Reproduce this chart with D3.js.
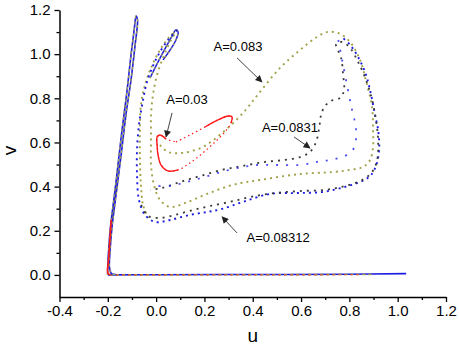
<!DOCTYPE html>
<html>
<head>
<meta charset="utf-8">
<script src="https://cdn.jsdelivr.net/npm/d3@7"></script>
<style>
body { margin: 0; background: #fff; }
text { font-family: Arial, "Liberation Sans", sans-serif; }
</style>
</head>
<body>
<div id="chart-area"></div>
<script>
// phase-plane trajectories, [u, v]
var bottomLine = [[-0.2, 0.0], [0.0, 0.001], [0.4, 0.002], [0.8, 0.003], [1.035, 0.006]];

var leftSpike = [[-0.201, 0.0], [-0.199, 0.068], [-0.195, 0.136], [-0.191, 0.195], [-0.183, 0.272],
    [-0.170, 0.385], [-0.158, 0.498], [-0.141, 0.657], [-0.120, 0.838], [-0.104, 0.996],
    [-0.091, 1.109], [-0.083, 1.173], [-0.077, 1.155], [-0.087, 1.042], [-0.104, 0.883],
    [-0.125, 0.725], [-0.145, 0.543], [-0.166, 0.362], [-0.183, 0.213], [-0.191, 0.104],
    [-0.193, 0.032], [-0.185, 0.006], [-0.165, 0.002]];

var secondSpike = [[-0.025, 0.892], [0.008, 0.965], [0.041, 1.033], [0.066, 1.082], [0.082, 1.110],
    [0.091, 1.101], [0.082, 1.064], [0.058, 1.019], [0.029, 0.974]];

// A = 0.03
var redLoop = [[0.082, 0.602], [0.140, 0.634], [0.202, 0.670], [0.256, 0.702], [0.298, 0.720],
    [0.314, 0.716], [0.310, 0.688], [0.285, 0.648], [0.244, 0.602], [0.194, 0.553],
    [0.140, 0.507], [0.091, 0.476], [0.049, 0.471], [0.020, 0.498], [0.008, 0.543],
    [0.004, 0.589], [0.004, 0.625], [0.016, 0.634], [0.041, 0.616], [0.082, 0.602]];
var redStem = [[-0.186, 0.25], [-0.191, 0.17], [-0.196, 0.08], [-0.2, 0.01], [-0.19, 0.0]];
var redBase = [[-0.19, 0.0], [0.3, 0.0], [0.85, 0.001]];

// A = 0.083
var oliveLoop = [[0.016, 0.589], [0.049, 0.557], [0.111, 0.553], [0.194, 0.580], [0.273, 0.643],
    [0.360, 0.734], [0.430, 0.829], [0.513, 0.938], [0.596, 1.019], [0.666, 1.078],
    [0.712, 1.101], [0.761, 1.092], [0.803, 1.055], [0.844, 0.974], [0.873, 0.861],
    [0.894, 0.761], [0.898, 0.657], [0.898, 0.580], [0.886, 0.521], [0.857, 0.489],
    [0.803, 0.476], [0.732, 0.466], [0.596, 0.457], [0.430, 0.430], [0.318, 0.408],
    [0.211, 0.367], [0.120, 0.326], [0.058, 0.308], [0.016, 0.340], [-0.009, 0.408],
    [-0.021, 0.498], [-0.021, 0.611], [-0.021, 0.725], [-0.013, 0.815], [0.004, 0.906],
    [0.033, 0.996], [0.062, 1.064], [0.087, 1.110]];
var oliveColumn = [[0.087, 1.110], [0.058, 1.082], [0.016, 1.019], [-0.021, 0.938], [-0.046, 0.861],
    [-0.063, 0.770], [-0.067, 0.657], [-0.067, 0.521], [-0.063, 0.408], [-0.054, 0.317],
    [-0.033, 0.258]];
var oliveBase = [[-0.19, 0.0], [0.5, 0.001], [0.9, 0.002]];

// A = 0.0831
var blackPath = [[-0.062, 0.317], [-0.033, 0.267], [0.016, 0.258], [0.078, 0.272], [0.153, 0.294],
    [0.223, 0.312], [0.306, 0.331], [0.389, 0.353], [0.492, 0.371], [0.596, 0.380],
    [0.699, 0.385], [0.782, 0.403], [0.853, 0.430], [0.894, 0.466], [0.915, 0.521],
    [0.919, 0.611], [0.910, 0.702], [0.894, 0.793], [0.869, 0.883], [0.836, 0.965],
    [0.803, 1.028], [0.770, 1.055], [0.745, 1.046], [0.766, 0.983], [0.774, 0.906],
    [0.778, 0.838], [0.762, 0.802], [0.724, 0.788], [0.699, 0.765], [0.683, 0.725],
    [0.675, 0.666], [0.662, 0.602], [0.637, 0.557], [0.596, 0.534], [0.534, 0.521],
    [0.451, 0.512], [0.360, 0.494], [0.273, 0.476], [0.182, 0.448], [0.099, 0.421],
    [0.024, 0.394], [-0.025, 0.385]];

// A = 0.08312
var blueOuter = [[0.087, 1.110], [0.049, 1.064], [0.016, 1.010], [-0.013, 0.947], [-0.038, 0.874],
    [-0.054, 0.793], [-0.071, 0.679], [-0.079, 0.566], [-0.079, 0.453], [-0.071, 0.340],
    [-0.046, 0.272], [-0.005, 0.240], [0.058, 0.249], [0.140, 0.272], [0.211, 0.285],
    [0.273, 0.299], [0.360, 0.331], [0.472, 0.367], [0.583, 0.371], [0.691, 0.376],
    [0.782, 0.399], [0.844, 0.421], [0.886, 0.448], [0.910, 0.494], [0.923, 0.566],
    [0.919, 0.657], [0.906, 0.725], [0.890, 0.815], [0.869, 0.906], [0.836, 0.987],
    [0.803, 1.042], [0.774, 1.073]];
var blueInner = [[0.754, 1.064], [0.770, 0.974], [0.790, 0.861], [0.811, 0.747], [0.828, 0.657],
    [0.819, 0.575], [0.782, 0.539], [0.720, 0.521], [0.666, 0.512], [0.596, 0.498],
    [0.501, 0.498], [0.418, 0.498], [0.360, 0.489], [0.285, 0.471], [0.202, 0.444],
    [0.128, 0.421], [0.058, 0.403], [0.008, 0.403]];

var labels = [
    { text: "A=0.083", at: [0.339, 1.033], from: [0.335, 0.983], to: [0.438, 0.874] },
    { text: "A=0.03", at: [0.128, 0.793], from: [0.066, 0.734], to: [0.041, 0.625] },
    { text: "A=0.0831", at: [0.554, 0.666], from: [0.571, 0.625], to: [0.637, 0.575] },
    { text: "A=0.08312", at: [0.505, 0.168], from: [0.335, 0.190], to: [0.273, 0.263] }
];

var xMajor = [-0.4, -0.2, 0.0, 0.2, 0.4, 0.6, 0.8, 1.0, 1.2];
var xMinor = [-0.3, -0.1, 0.1, 0.3, 0.5, 0.7, 0.9, 1.1];
var yMajor = [0.0, 0.2, 0.4, 0.6, 0.8, 1.0, 1.2];
var yMinor = [0.1, 0.3, 0.5, 0.7, 0.9, 1.1];

var margin = { top: 10, right: 13, bottom: 51, left: 59.5 };
var width = 459 - margin.left - margin.right;
var height = 348 - margin.top - margin.bottom;

var svg = d3.select("#chart-area")
    .append("svg")
    .attr("width", 459)
    .attr("height", 348);

var defs = svg.append("defs");
defs.append("marker")
    .attr("id", "arrow")
    .attr("viewBox", "0 0 10 10")
    .attr("refX", 9)
    .attr("refY", 5)
    .attr("markerWidth", 9)
    .attr("markerHeight", 7)
    .attr("markerUnits", "userSpaceOnUse")
    .attr("orient", "auto")
    .append("path")
    .attr("d", "M0,0 L10,5 L0,10 Z")
    .attr("fill", "#222");

var g = svg.append("g")
    .attr("transform", "translate(" + margin.left + "," + margin.top + ")");

var x = d3.scaleLinear().domain([-0.4, 1.2]).range([0, width]);
var y = d3.scaleLinear().domain([-0.1, 1.2]).range([height, 0]);

// axes
var fmt = d => d.toFixed(1);
var xAxis = g.append("g").attr("transform", "translate(0," + height + ")")
    .call(d3.axisBottom(x).tickValues(xMajor).tickFormat(fmt).tickSize(5).tickSizeOuter(0).tickPadding(3));
g.append("g").attr("transform", "translate(0," + height + ")")
    .call(d3.axisBottom(x).tickValues(xMinor).tickFormat("").tickSize(3).tickSizeOuter(0))
    .select(".domain").remove();
var yAxis = g.append("g")
    .call(d3.axisLeft(y).tickValues(yMajor).tickFormat(fmt).tickSize(5).tickSizeOuter(0).tickPadding(4));
g.append("g")
    .call(d3.axisLeft(y).tickValues(yMinor).tickFormat("").tickSize(3).tickSizeOuter(0))
    .select(".domain").remove();

g.selectAll(".domain").attr("stroke", "#000").attr("stroke-width", 1.5);
g.selectAll(".tick line").attr("stroke", "#000").attr("stroke-width", 1.3);
g.selectAll(".tick text").attr("font-size", "15px").attr("fill", "#000")
    .attr("font-family", "Arial, 'Liberation Sans', sans-serif");

g.append("text")
    .attr("x", width / 2)
    .attr("y", height + 45)
    .attr("text-anchor", "middle")
    .attr("font-size", "19px")
    .text("u");

g.append("text")
    .attr("transform", "rotate(-90)")
    .attr("x", -(y(0.6) + 8))
    .attr("y", -44)
    .attr("text-anchor", "middle")
    .attr("font-size", "19px")
    .text("v");

var line = d3.line()
    .x(d => x(d[0]))
    .y(d => y(d[1]))
    .curve(d3.curveCatmullRom.alpha(0.5));

function draw(data, color, w, dash, op) {
    g.append("path")
        .datum(data)
        .attr("d", line)
        .attr("fill", "none")
        .attr("stroke", color)
        .attr("stroke-width", w)
        .attr("stroke-dasharray", dash || null)
        .attr("opacity", op || 1);
}

var blue = "#1c1ce0", olive = "#a2a24a", black = "#3a3a3a", red = "#ff1a1a";

draw(bottomLine, blue, 1.6);
draw(oliveBase, olive, 1.6, "3 3");
draw(redBase, red, 1.2, "2 4", 0.7);
draw(leftSpike, blue, 1.6);
draw(leftSpike, olive, 1.2, "3 3");
draw(secondSpike, blue, 1.5);
draw(secondSpike, olive, 1.1, "2 3");

draw(oliveColumn, olive, 1.9, "2 3.5");
draw(oliveLoop, olive, 1.9, "2 4");
draw(blueOuter, blue, 1.9, "2 4");
draw(blackPath, black, 1.8, "2 5");
draw(blueInner, "#3a3af0", 1.8, "2 8", 0.9);

draw(redLoop, red, 1.2, "1.5 3");
draw(redLoop.slice(11, 19), red, 1.4);
draw(redLoop.slice(2, 7), red, 1.4);
draw(redStem, red, 1.6);

// annotations
var ann = g.selectAll(".ann").data(labels).enter().append("g").attr("class", "ann");
ann.append("text")
    .attr("x", d => x(d.at[0]))
    .attr("y", d => y(d.at[1]))
    .attr("dy", "0.35em")
    .attr("text-anchor", "middle")
    .attr("font-size", "13px")
    .attr("fill", "#000")
    .text(d => d.text);
ann.append("line")
    .attr("x1", d => x(d.from[0]))
    .attr("y1", d => y(d.from[1]))
    .attr("x2", d => x(d.to[0]))
    .attr("y2", d => y(d.to[1]))
    .attr("stroke", "#444")
    .attr("stroke-width", 1)
    .attr("marker-end", "url(#arrow)");
</script>
</body>
</html>
